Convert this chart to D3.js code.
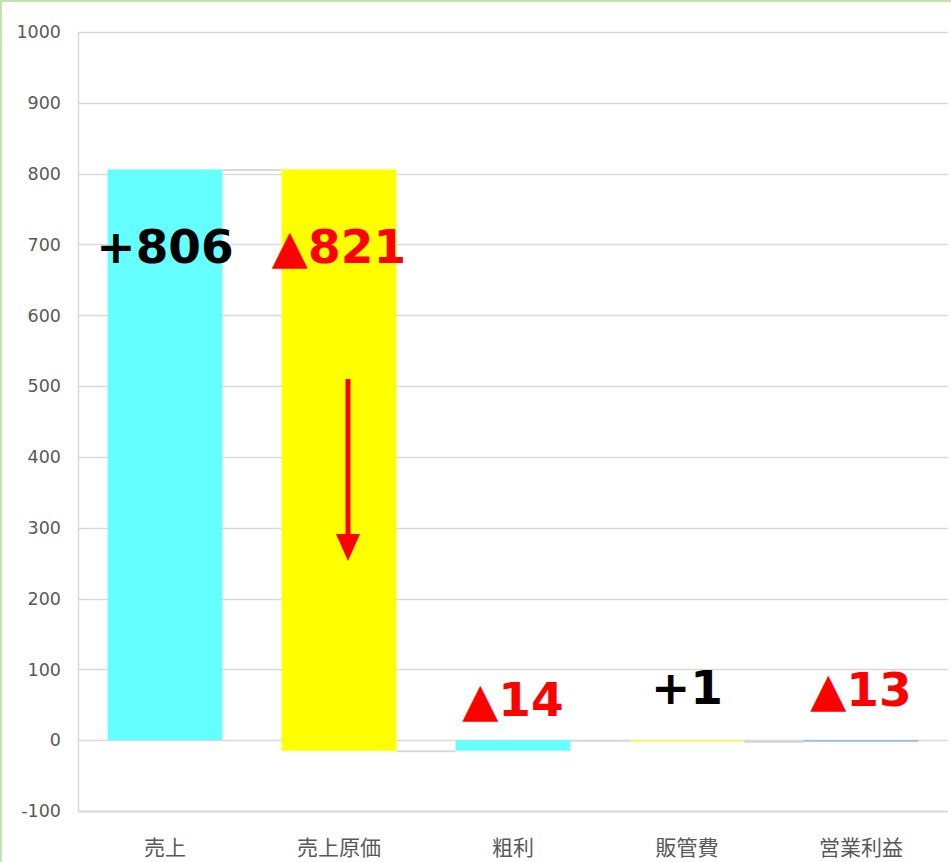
<!DOCTYPE html>
<html>
<head>
<meta charset="utf-8">
<script src="https://cdn.jsdelivr.net/npm/d3@7"></script>
<style>
  body { margin: 0; background: #fff; }
</style>
</head>
<body>
<script>
// categories and waterfall values
var categories = ["売上", "売上原価", "粗利", "販管費", "営業利益"];
var barStart = [0, 806, 0, 0, 0];
var barEnd = [806, -15, -15, -1.5, -2];
var barColors = ["#66ffff", "#ffff00", "#66ffff", "#ffff00", "#8db4e2"];
var connectorLevels = [806, -15, 0, -2];
var labels = ["+806", "▲821", "▲14", "+1", "▲13"];
var labelColors = ["#000000", "#ff0000", "#ff0000", "#000000", "#ff0000"];
var labelValues = [674, 674, 34, 51, 48];
var yTicks = [-100, 0, 100, 200, 300, 400, 500, 600, 700, 800, 900, 1000];
var arrowFrom = 510, arrowTo = 253;

var width = 951, height = 862;
var margin = {top: 32, right: 3, bottom: 51, left: 78};

var svg = d3.select("body").append("svg")
    .attr("width", width)
    .attr("height", height);

// outer frame
svg.append("rect")
    .attr("x", 1).attr("y", 1)
    .attr("width", width).attr("height", height)
    .attr("fill", "none")
    .attr("stroke", "#c5e0b4")
    .attr("stroke-width", 2);

var x = d3.scaleBand()
    .domain(categories)
    .range([margin.left, width - margin.right])
    .paddingInner(0.34)
    .paddingOuter(0.17);

var y = d3.scaleLinear()
    .domain([-100, 1000])
    .range([height - margin.bottom, margin.top]);

// gridlines
svg.append("g").selectAll("line")
    .data(yTicks)
    .enter().append("line")
    .attr("x1", margin.left)
    .attr("x2", width - margin.right)
    .attr("y1", function(d) { return Math.round(y(d)) + 0.5; })
    .attr("y2", function(d) { return Math.round(y(d)) + 0.5; })
    .attr("stroke", "#d9d9d9")
    .attr("stroke-width", function(d) { return d === -100 ? 2 : 1.5; });

// left axis line
svg.append("line")
    .attr("x1", margin.left + 0.5).attr("x2", margin.left + 0.5)
    .attr("y1", y(1000)).attr("y2", y(-100))
    .attr("stroke", "#d9d9d9")
    .attr("stroke-width", 1.5);

// y tick labels
svg.append("g").selectAll("text")
    .data(yTicks)
    .enter().append("text")
    .attr("x", 61)
    .attr("y", function(d) { return y(d); })
    .attr("dy", "0.36em")
    .attr("text-anchor", "end")
    .attr("fill", "#595959")
    .style("font", "17.5px 'DejaVu Sans', sans-serif")
    .text(function(d) { return d; });

// connectors
svg.append("g").selectAll("line")
    .data(connectorLevels)
    .enter().append("line")
    .attr("x1", function(d, i) { return x(categories[i]) + x.bandwidth(); })
    .attr("x2", function(d, i) { return x(categories[i + 1]); })
    .attr("y1", function(d) { return y(d) + 0.5; })
    .attr("y2", function(d) { return y(d) + 0.5; })
    .attr("stroke", "#d9d9d9")
    .attr("stroke-width", 2);

// bars
svg.append("g").selectAll("rect")
    .data(categories)
    .enter().append("rect")
    .attr("x", function(d) { return x(d); })
    .attr("width", x.bandwidth())
    .attr("y", function(d, i) { return y(Math.max(barStart[i], barEnd[i])); })
    .attr("height", function(d, i) { return Math.abs(y(barStart[i]) - y(barEnd[i])); })
    .attr("fill", function(d, i) { return barColors[i]; });

// red arrow on 売上原価
var ax = x("売上原価") + x.bandwidth() / 2 + 9;
svg.append("line")
    .attr("x1", ax).attr("x2", ax)
    .attr("y1", y(arrowFrom)).attr("y2", y(arrowTo) - 24)
    .attr("stroke", "#ff0000")
    .attr("stroke-width", 5);
svg.append("path")
    .attr("d", "M" + (ax - 12) + "," + (y(arrowTo) - 27) +
               "L" + (ax + 12) + "," + (y(arrowTo) - 27) +
               "L" + ax + "," + y(arrowTo) + "Z")
    .attr("fill", "#ff0000");

// value labels
svg.append("g").selectAll("text")
    .data(labels)
    .enter().append("text")
    .attr("x", function(d, i) { return x(categories[i]) + x.bandwidth() / 2; })
    .attr("y", function(d, i) { return y(labelValues[i]); })
    .attr("text-anchor", "middle")
    .attr("fill", function(d, i) { return labelColors[i]; })
    .style("font", "bold 47px 'DejaVu Sans', sans-serif")
    .text(function(d) { return d; });

// category labels
svg.append("g").selectAll("text")
    .data(categories)
    .enter().append("text")
    .attr("x", function(d) { return x(d) + x.bandwidth() / 2; })
    .attr("y", 855)
    .attr("text-anchor", "middle")
    .attr("fill", "#595959")
    .style("font", "21px 'Noto Sans CJK JP', sans-serif")
    .text(function(d) { return d; });
</script>
</body>
</html>
